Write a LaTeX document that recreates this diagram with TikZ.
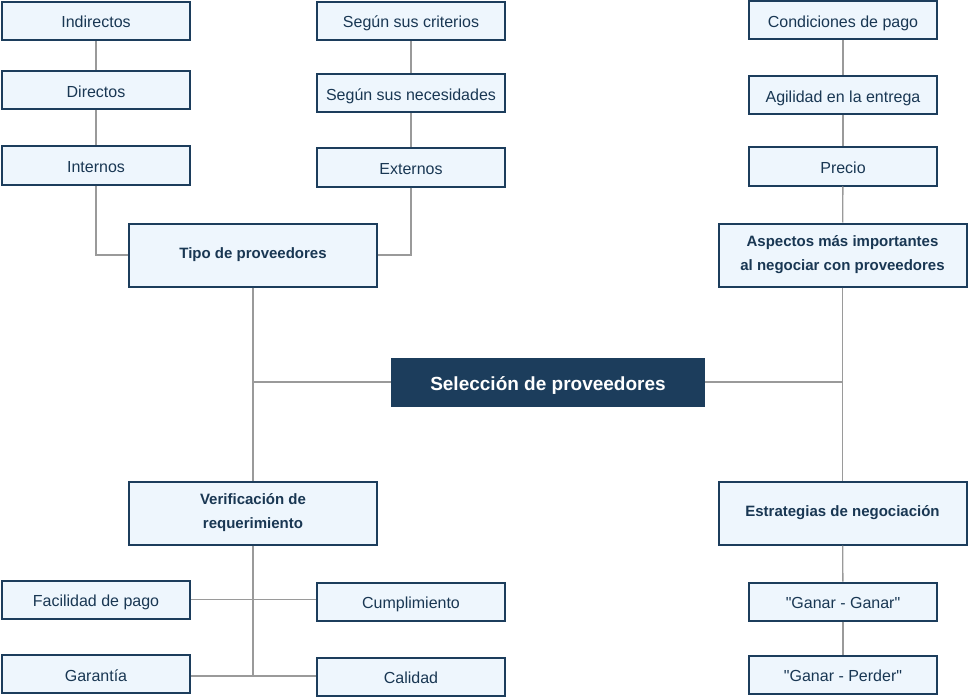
\documentclass[tikz,border=0pt]{standalone}
\usepackage{fontspec}
\setmainfont{Liberation Sans}
\usetikzlibrary{positioning,calc}
\definecolor{navy}{HTML}{1C3D5C}
\definecolor{paleblue}{HTML}{EEF6FD}
\definecolor{wire}{HTML}{9A9A9A}
\tikzset{
	leaf/.style={draw=navy,line width=2pt,fill=paleblue,minimum width=188pt,minimum height=38pt,anchor=center,rectangle,text=navy!90!black,text height=14pt,text depth=0pt,font=\fontsize{16}{19}\selectfont},
	branch/.style={draw=navy,line width=2pt,fill=paleblue,minimum width=248pt,minimum height=63pt,anchor=center,rectangle,align=center,text=navy!90!black,font=\fontsize{15}{24}\selectfont\bfseries},
	root/.style={draw=none,fill=navy,minimum width=314pt,minimum height=49pt,anchor=center,rectangle,text=white,text height=16pt,text depth=0pt,font=\fontsize{19}{22}\selectfont\bfseries},
	line/.style={draw=wire,line width=1.3pt},
}
\begin{document}
\begin{tikzpicture}[x=1pt,y=-1pt]
	\useasboundingbox (0,0) rectangle (969,698);
	
	% Center
	\node[root] (sel) at (548,382) {Selección de proveedores};
	
	% Tipo de proveedores
	\node[branch] (tipo) at (253,255) {Tipo de proveedores};
	\node[leaf] (indirectos) at (96,21) {Indirectos};
	\node[leaf] (directos) at (96,90.5) {Directos};
	\node[leaf] (internos) at (96,165.5) {Internos};
	\node[leaf] (criterios) at (411,21) {Según sus criterios};
	\node[leaf] (necesidades) at (411,93.5) {Según sus necesidades};
	\node[leaf] (externos) at (411,167.5) {Externos};
	
	% Aspectos
	\node[branch] (aspectos) at (842.5,255) {Aspectos más importantes\\al negociar con proveedores};
	\node[leaf] (condiciones) at (843,20.5) {Condiciones de pago};
	\node[leaf] (agilidad) at (843,95.5) {Agilidad en la entrega};
	\node[leaf] (precio) at (843,166.5) {Precio};
	
	% Verificacion
	\node[branch] (verif) at (253,513) {Verificación de\\requerimiento};
	\node[leaf] (facilidad) at (96,599.5) {Facilidad de pago};
	\node[leaf] (garantia) at (96,674) {Garantía};
	\node[leaf] (cumpl) at (411,601.5) {Cumplimiento};
	\node[leaf] (calidad) at (411,676.5) {Calidad};
	
	% Estrategias
	\node[branch] (estrategias) at (842.5,513) {Estrategias de negociación};
	\node[leaf] (ganar) at (843,601.5) {\textquotedbl Ganar - Ganar\textquotedbl};
	\node[leaf] (perder) at (843,674.5) {\textquotedbl Ganar - Perder\textquotedbl};
	
	% Draw connections
	\begin{scope}[on background layer/.try]
	\draw[line] (indirectos) -- (directos);
	\draw[line] (directos) -- (internos);
	\draw[line] (internos.south) |- (tipo.west);
	\draw[line] (criterios) -- (necesidades);
	\draw[line] (necesidades) -- (externos);
	\draw[line] (externos.south) |- (tipo.east);
	\draw[line] (tipo) -- (verif);
	\draw[line] (sel.west) -- (sel.west -| tipo.south);
	
	\draw[line] (condiciones) -- (agilidad);
	\draw[line] (agilidad) -- (precio);
	\draw[line] (precio) -- (aspectos);
	\draw[line] (aspectos) -- (estrategias);
	\draw[line] (sel.east) -- (sel.east -| aspectos.south);
	
	\draw[line] (verif.south) -- ($(verif.south |- garantia.east)+(0,2)$) coordinate (vend);
	\draw[line] (facilidad.east) -- (facilidad.east -| cumpl.west);
	\draw[line] (garantia.east |- vend) -- (vend -| calidad.west);
	
	\draw[line] (estrategias) -- (ganar);
	\draw[line] (ganar) -- (perder);
	\end{scope}
	
\end{tikzpicture}
\end{document}
